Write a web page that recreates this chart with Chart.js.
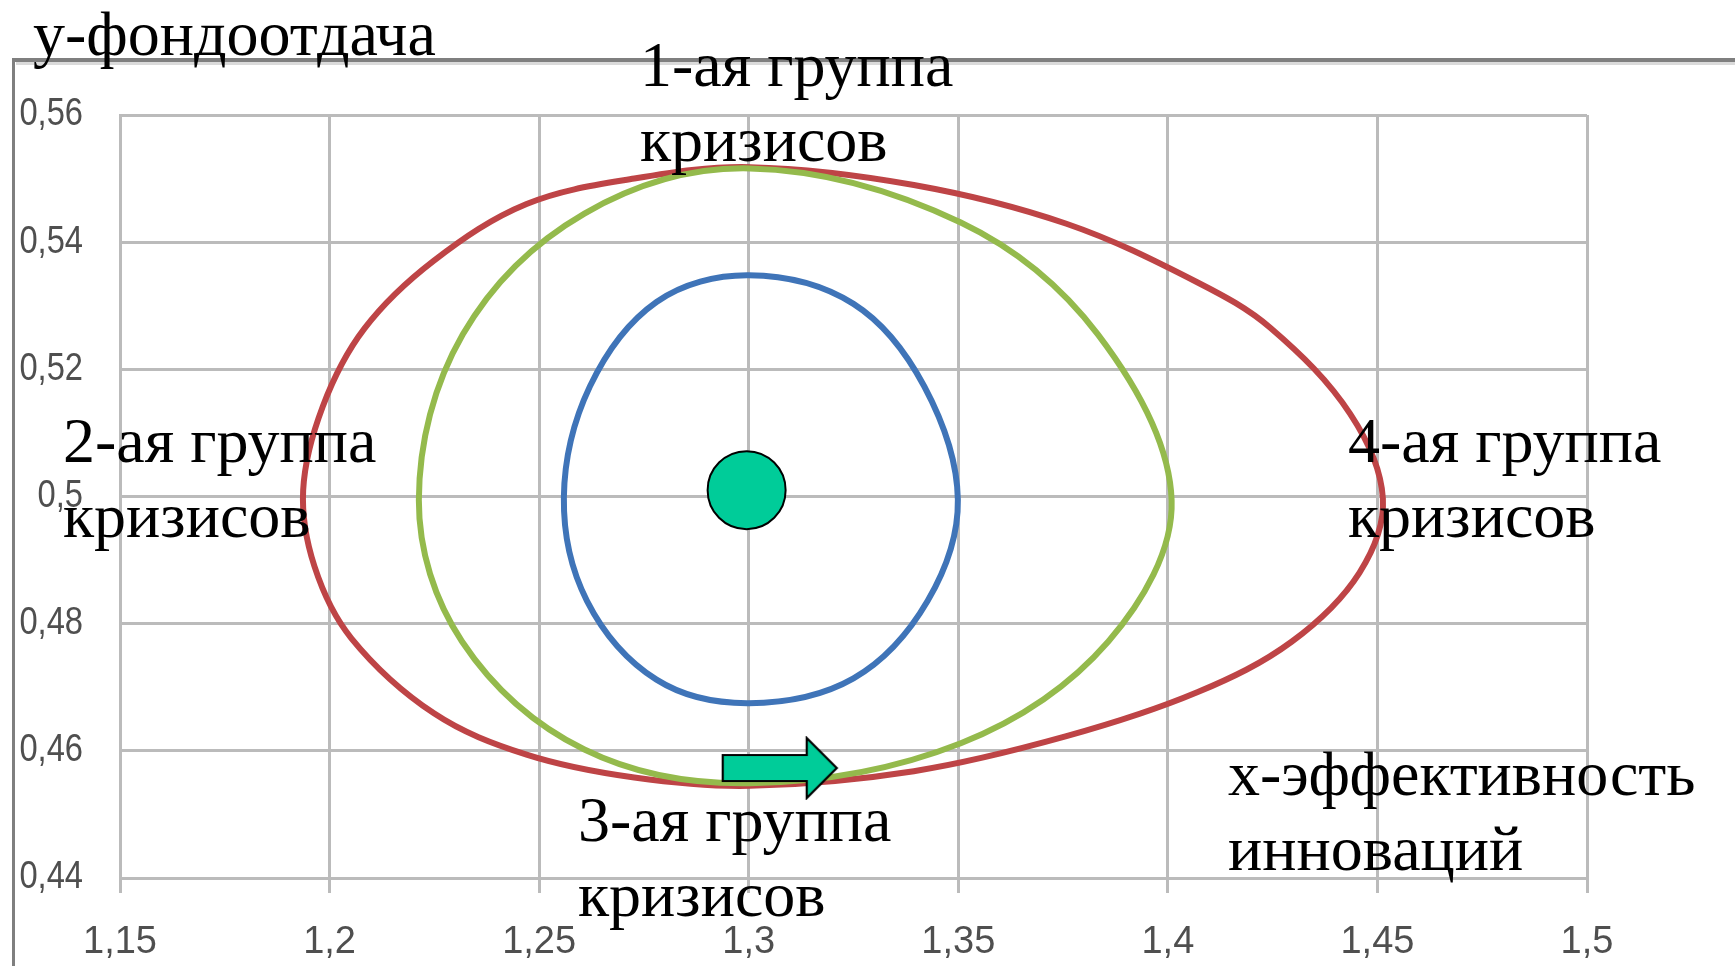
<!DOCTYPE html>
<html><head><meta charset="utf-8">
<script src="https://cdn.jsdelivr.net/npm/chart.js@4.4.1/dist/chart.umd.min.js"></script>
<style>html,body{margin:0;padding:0;background:#fff;overflow:hidden}#wrap{position:relative;width:1735px;height:966px}</style>
</head><body><div id="wrap"><canvas id="c" width="1735" height="966"></canvas></div>
<script>
// ---- axes ----
const xTickValues = [1.15, 1.2, 1.25, 1.3, 1.35, 1.4, 1.45, 1.5];
const xTickLabels = ['1,15', '1,2', '1,25', '1,3', '1,35', '1,4', '1,45', '1,5'];
const yTickValues = [0.44, 0.46, 0.48, 0.5, 0.52, 0.54, 0.56];
const yTickLabels = ['0,44', '0,46', '0,48', '0,5', '0,52', '0,54', '0,56'];

// ---- series (closed curves, clockwise from the top) ----
const blueX = [1.3000, 1.3250, 1.3419, 1.3499, 1.3427, 1.3250, 1.3000, 1.2780, 1.2614, 1.2559, 1.2621, 1.2780];
const blueY = [0.5348, 0.5303, 0.5173, 0.4995, 0.4836, 0.4714, 0.4675, 0.4712, 0.4836, 0.4999, 0.5173, 0.5306];

const greenX = [1.3003, 1.3506, 1.3833, 1.4009, 1.3858, 1.3506, 1.3003, 1.2608, 1.2316, 1.2213, 1.2318, 1.2608];
const greenY = [0.5516, 0.5431, 0.5255, 0.4994, 0.4772, 0.4612, 0.4549, 0.4602, 0.4772, 0.4994, 0.5255, 0.5445];

const redX = [1.3003, 1.3394, 1.3758, 1.4070, 1.4245, 1.4435, 1.4513, 1.4457, 1.4296, 1.4070, 1.3758, 1.3394,
              1.3003, 1.2727, 1.2470, 1.2249, 1.2052, 1.1964, 1.1937, 1.1984, 1.2083, 1.2249, 1.2470, 1.2727];
const redY = [0.5518, 0.5490, 0.5429, 0.5337, 0.5265, 0.5130, 0.4997, 0.4880, 0.4772, 0.4692, 0.4623, 0.4568,
              0.4545, 0.4558, 0.4594, 0.4659, 0.4777, 0.4890, 0.5010, 0.5142, 0.5264, 0.5371, 0.5460, 0.5500];

// ---- markers ----
const centerX = [1.2995];
const centerY = [0.5010];
const arrowX = [1.3074];
const arrowY = [0.4573];

// ---- annotation texts ----
const yTitle = 'у-фондоотдача';
const xTitle = ['х-эффективность', 'инноваций'];
const groupLabels = [
  ['1-ая группа', 'кризисов'],
  ['2-ая группа', 'кризисов'],
  ['3-ая группа', 'кризисов'],
  ['4-ая группа', 'кризисов']
];

const pts = (xs, ys) => xs.map((x, i) => ({x: x, y: ys[i]}));

// arrow image used as point style
function makeArrow() {
  const c = document.createElement('canvas');
  c.width = 118; c.height = 64;
  const g = c.getContext('2d');
  g.beginPath();
  g.moveTo(2, 19); g.lineTo(86, 19); g.lineTo(86, 2); g.lineTo(116, 32);
  g.lineTo(86, 62); g.lineTo(86, 45); g.lineTo(2, 45); g.closePath();
  g.fillStyle = '#00CC99'; g.fill();
  g.lineWidth = 2.2; g.strokeStyle = '#000'; g.lineJoin = 'miter'; g.stroke();
  return c;
}

const loopPlugin = {
  id: 'loopCurves',
  beforeDatasetDraw(chart, args) {
    const ds = chart.data.datasets[args.index];
    if (!ds.closed) return;
    const line = args.meta.dataset;
    if (!line) return;
    line._loop = true;
    line._fullLoop = true;
    line._pointsUpdated = false;
    delete line._segments;
    line._path = undefined;
  }
};

// y tick labels are slightly condensed in the reference
const condensePlugin = {
  id: 'condenseY',
  beforeDraw(chart) {
    const s = chart.scales.y;
    if (!s || s._condensed) return;
    const orig = s.drawLabels;
    s.drawLabels = function (area) {
      const ctx = this.ctx;
      const ax = this.right - this.options.ticks.padding;
      ctx.save();
      ctx.translate(ax, 0); ctx.scale(0.86, 1); ctx.translate(-ax, 0);
      orig.call(this, area);
      ctx.restore();
    };
    s._condensed = true;
  }
};

const framePlugin = {
  id: 'frame',
  beforeDraw(chart) {
    const ctx = chart.ctx;
    ctx.save();
    ctx.fillStyle = '#fff';
    ctx.fillRect(0, 0, chart.width, chart.height);
    ctx.fillStyle = '#DADADA';
    ctx.fillRect(16, 62, chart.width - 16, 3);
    ctx.fillStyle = '#7F7F7F';
    ctx.fillRect(12, 58, chart.width - 12, 4);
    ctx.fillRect(12, 58, 3, chart.height - 58);
    ctx.restore();
  }
};

const textPlugin = {
  id: 'texts',
  afterDraw(chart) {
    const ctx = chart.ctx;
    ctx.save();
    ctx.fillStyle = '#000';
    ctx.font = '64px "Liberation Serif", "Times New Roman", serif';
    ctx.textBaseline = 'alphabetic';
    ctx.textAlign = 'left';
    const lh = 75;
    ctx.fillText(yTitle, 33, 55);
    const spots = [[640, 86], [63, 462], [578, 841], [1348, 462]];
    groupLabels.forEach((lines, i) => {
      lines.forEach((t, j) => ctx.fillText(t, spots[i][0], spots[i][1] + j * lh));
    });
    xTitle.forEach((t, j) => ctx.fillText(t, 1228, 795 + j * lh));
    ctx.restore();
  }
};

const gridColor = '#BBBBBB';
const tickFont = {family: '"Liberation Sans", sans-serif', size: 38};
const curveWidth = 6;

new Chart(document.getElementById('c'), {
  type: 'line',
  data: {
    datasets: [
      {type: 'scatter', data: pts(arrowX, arrowY), pointStyle: makeArrow(), pointRadius: 30, showLine: false, order: 0},
      {type: 'scatter', data: pts(centerX, centerY), pointStyle: 'circle', pointRadius: 39, backgroundColor: '#00CC99', borderColor: '#000', borderWidth: 2, showLine: false, order: 1},
      {data: pts(greenX, greenY), closed: true, borderColor: '#94BA4C', borderWidth: curveWidth, pointRadius: 0, tension: 0.35, fill: false, order: 2},
      {data: pts(blueX, blueY), closed: true, borderColor: '#3F74B8', borderWidth: curveWidth, pointRadius: 0, tension: 0.35, fill: false, order: 3},
      {data: pts(redX, redY), closed: true, borderColor: '#BE4446', borderWidth: curveWidth, pointRadius: 0, tension: 0.35, fill: false, order: 4}
    ]
  },
  options: {
    responsive: false,
    animation: false,
    events: [],
    devicePixelRatio: 1,
    layout: {padding: {top: 115, right: 148, left: 0, bottom: 0}},
    plugins: {legend: {display: false}, tooltip: {enabled: false}, title: {display: false}},
    scales: {
      x: {
        type: 'linear', min: 1.15, max: 1.5,
        afterBuildTicks: s => { s.ticks = xTickValues.map(v => ({value: v})); },
        afterFit: s => { s.height = 88; },
        ticks: {callback: (v, i) => xTickLabels[i], font: tickFont, color: '#4F4F4F', padding: 27, maxRotation: 0, autoSkip: false},
        grid: {color: gridColor, lineWidth: 3, tickLength: 15, drawTicks: true},
        border: {color: gridColor, width: 3}
      },
      y: {
        type: 'linear', min: 0.44, max: 0.56,
        afterBuildTicks: s => { s.ticks = yTickValues.map(v => ({value: v})); },
        afterFit: s => { s.width = 120; },
        ticks: {callback: (v, i) => yTickLabels[i], font: tickFont, color: '#4F4F4F', padding: 37, autoSkip: false},
        grid: {color: gridColor, lineWidth: 3, drawTicks: false},
        border: {color: gridColor, width: 3}
      }
    }
  },
  plugins: [framePlugin, condensePlugin, loopPlugin, textPlugin]
});
</script>
</body></html>
